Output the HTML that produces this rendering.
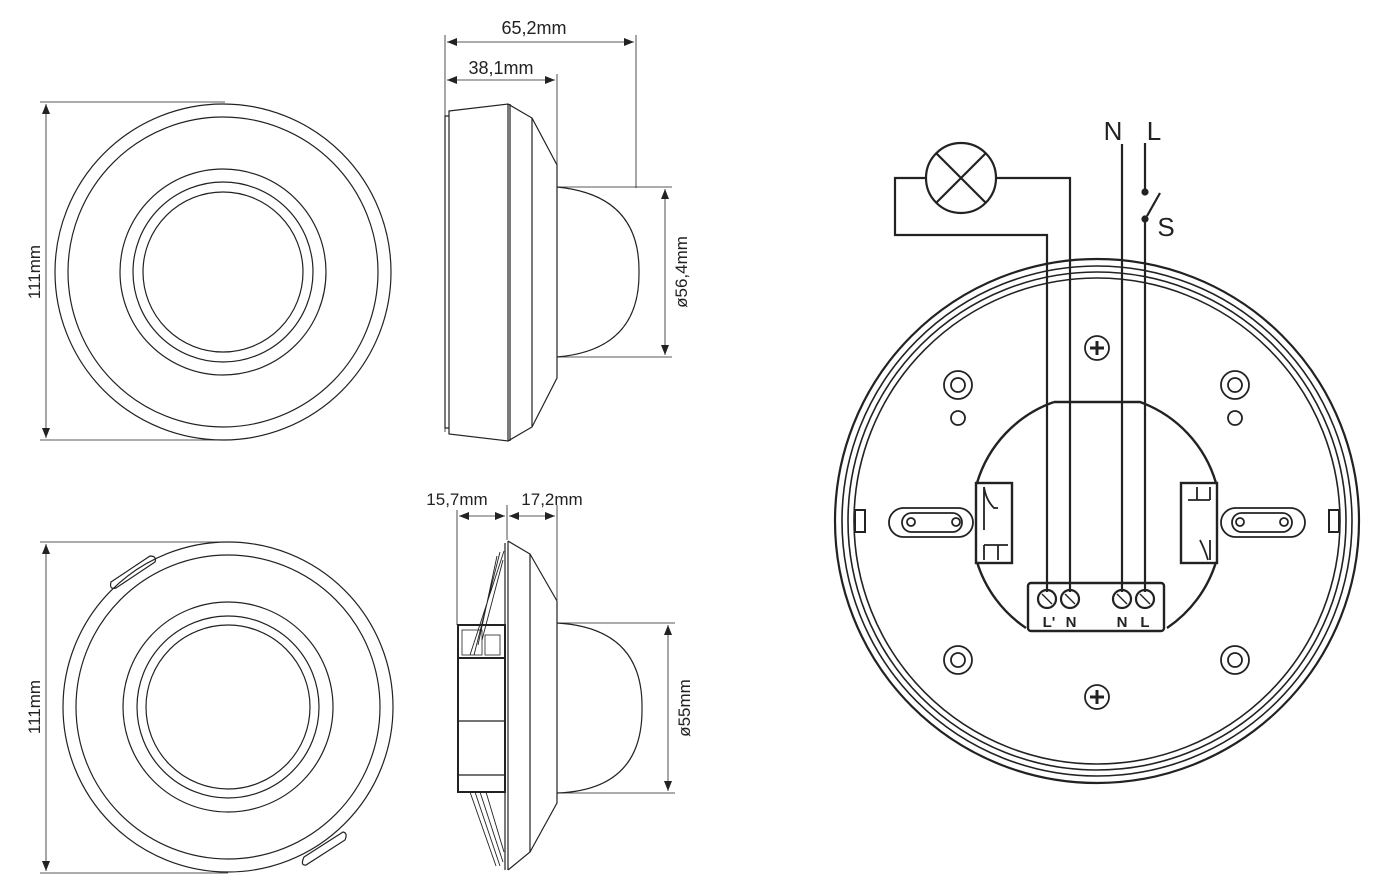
<!DOCTYPE html>
<html><head><meta charset="utf-8"><style>
body{margin:0;background:#fff}
svg{display:block}
text{font-family:"Liberation Sans",sans-serif;fill:#222}
</style></head><body>
<svg width="1387" height="888" viewBox="0 0 1387 888" xmlns="http://www.w3.org/2000/svg">
<defs>
<marker id="a" viewBox="0 0 10 10" refX="10" refY="5" markerWidth="10" markerHeight="10" orient="auto-start-reverse" markerUnits="userSpaceOnUse"><path d="M0,1 L10,5 L0,9 Z" fill="#222"/></marker>
</defs>
<g fill="none" stroke="#222" stroke-width="1.2">
<circle cx="223" cy="272" r="168"/>
<circle cx="223" cy="272" r="155"/>
<circle cx="223" cy="272" r="103"/>
<circle cx="223" cy="272" r="90"/>
<circle cx="223" cy="272" r="80"/>
<line x1="40" y1="102" x2="225" y2="102" stroke-width="0.8"/>
<line x1="40" y1="440" x2="225" y2="440" stroke-width="0.8"/>
<line x1="46" y1="104" x2="46" y2="438" marker-start="url(#a)" marker-end="url(#a)" stroke-width="0.8"/>
<circle cx="228" cy="707" r="165"/>
<circle cx="228" cy="707" r="152"/>
<circle cx="228" cy="707" r="105"/>
<circle cx="228" cy="707" r="91"/>
<circle cx="228" cy="707" r="82"/>
<path d="M111,582 L150,556 Q157,556 155,562 L116,588 Q109,590 111,582 Z"/>
<path d="M304,857 L343,832 Q348,833 345,840 L306,865 Q300,866 304,857 Z"/>
<line x1="40" y1="542" x2="228" y2="542" stroke-width="0.8"/>
<line x1="40" y1="873" x2="228" y2="873" stroke-width="0.8"/>
<line x1="46" y1="544" x2="46" y2="871" marker-start="url(#a)" marker-end="url(#a)" stroke-width="0.8"/>

<line x1="445" y1="35" x2="445" y2="432" stroke-width="0.8"/>
<line x1="636" y1="35" x2="636" y2="188" stroke-width="0.8"/>
<line x1="557" y1="74" x2="557" y2="165" stroke-width="0.8"/>
<line x1="447" y1="42" x2="634" y2="42" marker-start="url(#a)" marker-end="url(#a)" stroke-width="0.8"/>
<line x1="447" y1="80" x2="555" y2="80" marker-start="url(#a)" marker-end="url(#a)" stroke-width="0.8"/>
<path d="M449,116 L445,116 L445,428 L449,428"/>
<path d="M449,111 L508,104 L508,441 L449,434 Z"/>
<line x1="510" y1="104" x2="510" y2="441"/>
<path d="M508,104 L532,118 L557,165 L557,378 L532,427 L508,441"/>
<line x1="532" y1="118" x2="532" y2="427"/>
<path d="M557,187 Q640,195 639,272 Q640,350 557,357"/>
<line x1="557" y1="187" x2="672" y2="187" stroke-width="0.8"/>
<line x1="557" y1="357" x2="672" y2="357" stroke-width="0.8"/>
<line x1="665" y1="189" x2="665" y2="355" marker-start="url(#a)" marker-end="url(#a)" stroke-width="0.8"/>

<line x1="457" y1="510" x2="457" y2="625" stroke-width="0.8"/>
<line x1="507" y1="505" x2="507" y2="540" stroke-width="0.8"/>
<line x1="557" y1="505" x2="557" y2="600" stroke-width="0.8"/>
<line x1="459" y1="516" x2="505" y2="516" marker-start="url(#a)" marker-end="url(#a)" stroke-width="0.8"/>
<line x1="509" y1="516" x2="555" y2="516" marker-start="url(#a)" marker-end="url(#a)" stroke-width="0.8"/>
<path d="M505,543 L505,870 M508,541 L508,870"/>
<path d="M508,541 L530,554 L557,601 L557,803 L530,852 L508,870"/>
<line x1="530" y1="554" x2="530" y2="852"/>
<path d="M557,623 Q643,628 642,708 Q643,790 557,793"/>
<line x1="557" y1="623" x2="675" y2="623" stroke-width="0.8"/>
<line x1="557" y1="793" x2="675" y2="793" stroke-width="0.8"/>
<line x1="668" y1="625" x2="668" y2="791" marker-start="url(#a)" marker-end="url(#a)" stroke-width="0.8"/>
<rect x="458" y="625" width="47" height="167" stroke-width="2"/>
<line x1="458" y1="658" x2="505" y2="658" stroke-width="2"/>
<line x1="458" y1="721" x2="505" y2="721"/>
<line x1="458" y1="775" x2="505" y2="775"/>
<path d="M504,551 L470,655 M500,552 L474,655 M497,556 L478,645 M503,560 L482,640" stroke-width="0.9"/>
<path d="M475,792 L500,866 M480,792 L503,862 M486,792 L504,852 M470,792 L496,866" stroke-width="0.9"/>
<rect x="462" y="630" width="20" height="25" stroke-width="0.8"/>
<rect x="485" y="635" width="15" height="20" stroke-width="0.8"/>

<g stroke-width="2.2">
<circle cx="1097" cy="521" r="262"/>
<circle cx="1097" cy="521" r="255" stroke-width="1.6"/>
<circle cx="1097" cy="521" r="249" stroke-width="1.6"/>
<circle cx="1097" cy="521" r="243" stroke-width="1.6"/>
</g>
<g stroke-width="2" fill="#fff">
<rect x="855" y="510" width="10" height="22"/>
<rect x="1329" y="510" width="10" height="22"/>
</g>
<g stroke-width="1.8">
<circle cx="958" cy="385" r="14"/><circle cx="958" cy="385" r="7"/>
<circle cx="958" cy="418" r="7"/>
<circle cx="1235" cy="385" r="14"/><circle cx="1235" cy="385" r="7"/>
<circle cx="1235" cy="418" r="7"/>
<circle cx="958" cy="660" r="14"/><circle cx="958" cy="660" r="7"/>
<circle cx="1235" cy="660" r="14"/><circle cx="1235" cy="660" r="7"/>
<rect x="889" y="508" width="84" height="29" rx="14.5"/>
<rect x="902" y="513" width="60" height="19" rx="9.5"/>
<circle cx="911" cy="522" r="4"/><circle cx="956" cy="522" r="4"/>
<rect x="1221" y="508" width="84" height="29" rx="14.5"/>
<rect x="1232" y="513" width="60" height="19" rx="9.5"/>
<circle cx="1240" cy="522" r="4"/><circle cx="1284" cy="522" r="4"/>
<circle cx="1097" cy="348" r="12"/>
<path d="M1090,348 H1104 M1097,341 V355" stroke-width="3"/>
<circle cx="1097" cy="697" r="12"/>
<path d="M1090,697 H1104 M1097,690 V704" stroke-width="3"/>
</g>
<g stroke-width="2.4">
<path d="M1054,402 L1140,402 A123,123 0 0 1 1216,483"/>
<path d="M1054,402 A123,123 0 0 0 977,483"/>
<path d="M977,562 A123,123 0 0 0 1026,628"/>
<path d="M1216,562 A123,123 0 0 1 1167,628"/>
<rect x="976" y="483" width="36" height="80"/>
<rect x="1181" y="483" width="36" height="80"/>
<rect x="1028" y="583" width="136" height="48" rx="3"/>
</g>
<g stroke-width="1.8">
<path d="M984,487 V530 M984,545 V560 M984,545 H1008 M998,545 V560 M984,487 Q986,500 994,508 H998"/>
<path d="M1210,487 V500 M1188,500 H1210 M1197,487 V500 M1210,540 V560 M1200,540 Q1205,550 1208,560"/>
</g>
<g stroke-width="2.2">
<circle cx="1047" cy="599" r="9"/><circle cx="1070" cy="599" r="9"/>
<circle cx="1122" cy="599" r="9"/><circle cx="1145" cy="599" r="9"/>
</g>
<g stroke-width="1.4">
<path d="M1042,594 L1052,604 M1065,594 L1075,604 M1117,594 L1127,604 M1140,594 L1150,604"/>
</g>
<g stroke-width="2.2">
<circle cx="961" cy="178" r="35"/>
<path d="M936,153 L986,203 M986,153 L936,203"/>
<path d="M926,178 H895 V235 H1047 V592"/>
<path d="M996,178 H1070 V592"/>
<path d="M1122,144 V592"/>
<path d="M1145,143 V192"/>
<path d="M1145,220 V592"/>
<path d="M1147,216 L1160,193"/>
</g>
<circle cx="1145" cy="192" r="3" fill="#222"/>
<circle cx="1145" cy="219" r="3" fill="#222"/>
</g>
<text x="534" y="34" font-size="18" text-anchor="middle">65,2mm</text>
<text x="501" y="74" font-size="18" text-anchor="middle">38,1mm</text>
<text x="457" y="505" font-size="17" text-anchor="middle">15,7mm</text>
<text x="552" y="505" font-size="17" text-anchor="middle">17,2mm</text>
<text transform="translate(40,272) rotate(-90)" font-size="17" text-anchor="middle">111mm</text>
<text transform="translate(40,707) rotate(-90)" font-size="17" text-anchor="middle">111mm</text>
<text transform="translate(687,272) rotate(-90)" font-size="17" text-anchor="middle">ø56,4mm</text>
<text transform="translate(690,708) rotate(-90)" font-size="17" text-anchor="middle">ø55mm</text>
<text x="1113" y="140" font-size="26" text-anchor="middle">N</text>
<text x="1154" y="140" font-size="26" text-anchor="middle">L</text>
<text x="1166" y="236" font-size="26" text-anchor="middle">S</text>
<text x="1049" y="627" font-size="15" font-weight="bold" text-anchor="middle">L'</text>
<text x="1071" y="627" font-size="15" font-weight="bold" text-anchor="middle">N</text>
<text x="1122" y="627" font-size="15" font-weight="bold" text-anchor="middle">N</text>
<text x="1145" y="627" font-size="15" font-weight="bold" text-anchor="middle">L</text>
</svg>
</body></html>
